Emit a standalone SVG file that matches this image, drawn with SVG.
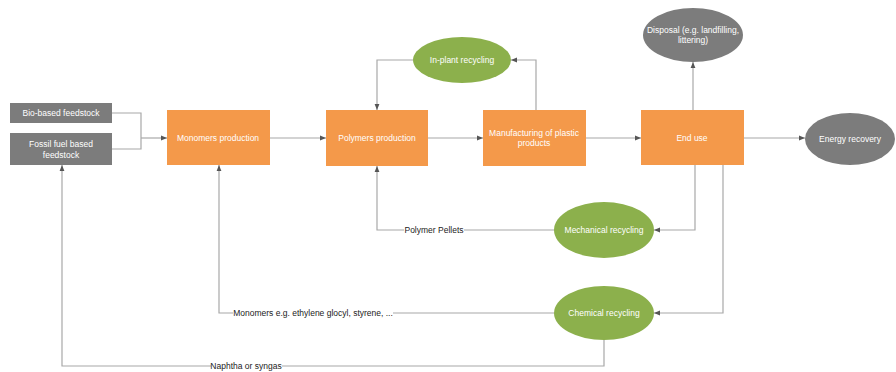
<svg xmlns="http://www.w3.org/2000/svg" width="896" height="372" viewBox="0 0 896 372">
<style>
.o{fill:#F4994A}
.g{fill:#8CB04C}
.k{fill:#7C7C7C}
.t{font-family:"Liberation Sans",Arial,sans-serif;font-size:8.5px;fill:#fff;text-anchor:middle;dominant-baseline:central}
.l{font-family:"Liberation Sans",Arial,sans-serif;font-size:8.5px;fill:#222;text-anchor:middle;dominant-baseline:central}
.c{fill:none;stroke:#A8A8A8;stroke-width:1.2}
.lb{fill:#fff}
</style>
<defs>
<marker id="a" viewBox="0 0 10 10" refX="10" refY="5" markerWidth="6" markerHeight="6" orient="auto" markerUnits="userSpaceOnUse">
<path d="M0,1 L10,5 L0,9 Z" fill="#555"/>
</marker>
</defs>
<rect width="896" height="372" fill="#fff"/>
<g id="connectors">
<path class="c" d="M112,113 H141 V149 H112"/>
<path class="c" d="M141,138 H167" marker-end="url(#a)"/>
<path class="c" d="M270,138 H326" marker-end="url(#a)"/>
<path class="c" d="M428,138 H483" marker-end="url(#a)"/>
<path class="c" d="M586,138 H641" marker-end="url(#a)"/>
<path class="c" d="M744,138 H805" marker-end="url(#a)"/>
<path class="c" d="M693,110 V62" marker-end="url(#a)"/>
<path class="c" d="M413,60 H377 V110" marker-end="url(#a)"/>
<path class="c" d="M536,110 V60 H511" marker-end="url(#a)"/>
<path class="c" d="M695,165 V230 H654" marker-end="url(#a)"/>
<path class="c" d="M723,165 V313 H654" marker-end="url(#a)"/>
<path class="c" d="M554,230 H377 V166" marker-end="url(#a)"/>
<path class="c" d="M554,313 H219 V165" marker-end="url(#a)"/>
<path class="c" d="M604,340 V366 H62 V165" marker-end="url(#a)"/>
<rect class="lb" x="404" y="225" width="60" height="10"/>
<text class="l" x="434" y="230">Polymer Pellets</text>
<rect class="lb" x="233" y="308" width="160" height="10"/>
<text class="l" x="313" y="313">Monomers e.g. ethylene glocyl, styrene, ...</text>
<rect class="lb" x="211" y="361" width="71" height="10"/>
<text class="l" x="246" y="366">Naphtha or syngas</text>
</g>
<g id="bio">
<rect class="k" x="10" y="103" width="102" height="20"/>
<text class="t" x="61" y="113">Bio-based feedstock</text>
</g>
<g id="fossil">
<rect class="k" x="10" y="133" width="102" height="32"/>
<text class="t" x="61" y="144">Fossil fuel based</text>
<text class="t" x="61" y="155">feedstock</text>
</g>
<g id="monomers">
<rect class="o" x="167" y="110" width="103" height="55"/>
<text class="t" x="218" y="138">Monomers production</text>
</g>
<g id="polymers">
<rect class="o" x="326" y="110" width="102" height="56"/>
<text class="t" x="377" y="138">Polymers production</text>
</g>
<g id="manufacturing">
<rect class="o" x="483" y="110" width="103" height="56"/>
<text class="t" x="534" y="133">Manufacturing of plastic</text>
<text class="t" x="534" y="143">products</text>
</g>
<g id="enduse">
<rect class="o" x="641" y="110" width="103" height="55"/>
<text class="t" x="692" y="138">End use</text>
</g>
<g id="inplant">
<ellipse class="g" cx="462" cy="60" rx="49" ry="23"/>
<text class="t" x="462" y="60">In-plant recycling</text>
</g>
<g id="disposal">
<ellipse class="k" cx="693" cy="35" rx="50" ry="27"/>
<text class="t" x="693" y="30">Disposal (e.g. landfilling,</text>
<text class="t" x="693" y="40">littering)</text>
</g>
<g id="energy">
<ellipse class="k" cx="850" cy="139" rx="45" ry="26"/>
<text class="t" x="850" y="139">Energy recovery</text>
</g>
<g id="mechanical">
<ellipse class="g" cx="604" cy="230" rx="50" ry="28"/>
<text class="t" x="604" y="230">Mechanical recycling</text>
</g>
<g id="chemical">
<ellipse class="g" cx="604" cy="313" rx="50" ry="27"/>
<text class="t" x="604" y="313">Chemical recycling</text>
</g>
</svg>
